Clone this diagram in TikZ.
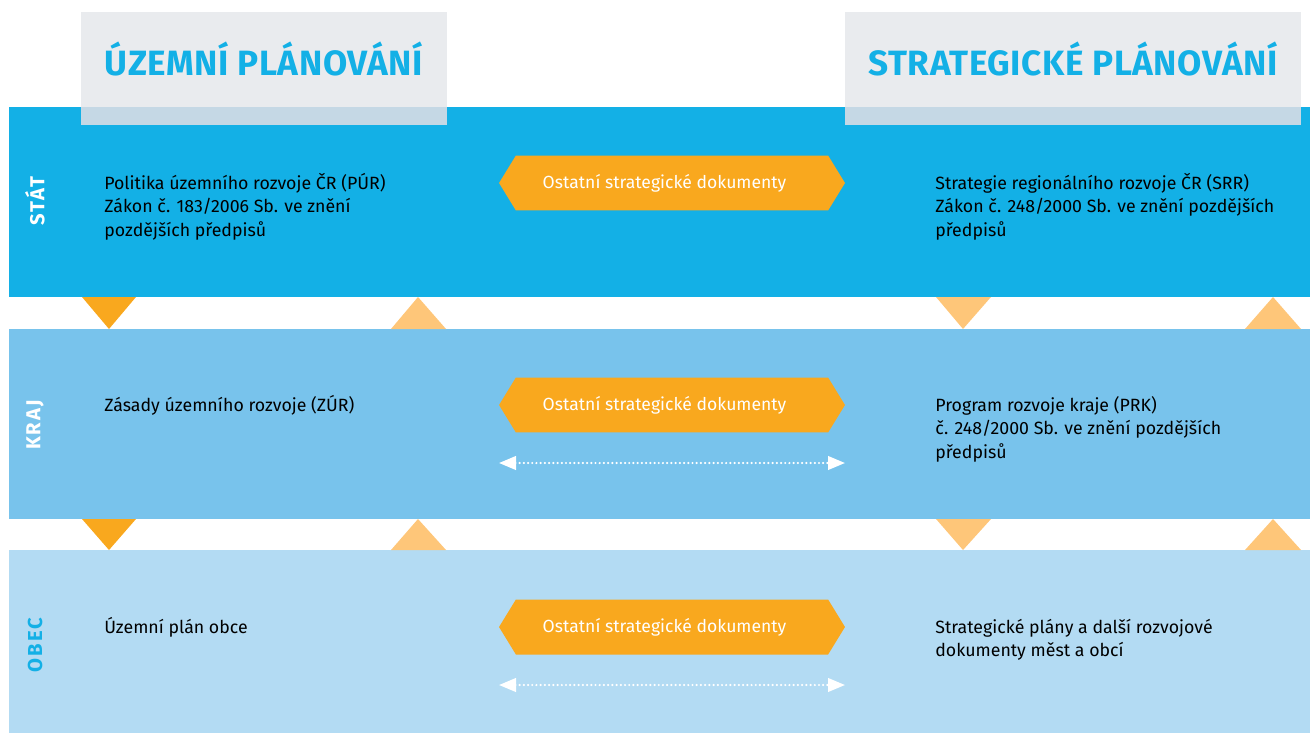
\documentclass[tikz,border=0pt]{standalone}
\usepackage{fontspec}
\setmainfont{Fira Sans}
\newfontfamily\headfont[LetterSpace=1.5]{Fira Sans}
\newfontfamily\sidefont[LetterSpace=10]{Fira Sans}
\usetikzlibrary{shapes.symbols,arrows.meta}
\definecolor{statblue}{HTML}{13B0E6}
\definecolor{krajblue}{HTML}{78C3EC}
\definecolor{obecblue}{HTML}{B3DBF3}
\definecolor{headgray}{HTML}{E9EBEE}
\definecolor{headshade}{HTML}{C5D8E5}
\definecolor{docorange}{HTML}{F9A81E}
\definecolor{lightorange}{HTML}{FEC679}
\begin{document}
\begin{tikzpicture}[x=0.02cm, y=-0.02cm,
  headtitle/.style={text=statblue, font=\headfont\bfseries\fontsize{20}{24}\selectfont},
  sidelabel/.style={rotate=90, font=\sidefont\bfseries\fontsize{11.5}{13}\selectfont},
  bodytext/.style={anchor=north west, align=left, inner sep=0pt, font=\fontsize{10.1}{13.6}\selectfont},
  docbox/.style={signal, signal to=west and east, fill=docorange, text=white, minimum width=6.92cm, minimum height=1.1cm, signal pointer angle=117, inner sep=0pt, font=\fontsize{10}{12}\selectfont, execute at end node={\hspace*{0.3cm}}},
  dotarrow/.style={white, line width=1.4pt, dash pattern=on 0pt off 2.4pt, line cap=round, {Triangle[length=0.34cm,width=0.27cm]}-{Triangle[length=0.34cm,width=0.27cm]}}]
\useasboundingbox (0,0) rectangle (1310,733);
% bands
\fill[statblue] (9,107) rectangle (1310,297);
\fill[krajblue] (9,329) rectangle (1310,519);
\fill[obecblue] (9,550) rectangle (1310,733);
% headers
\fill[headgray] (81,12) rectangle (447,107);
\fill[headshade] (81,107) rectangle (447,125);
\fill[headgray] (845,12) rectangle (1301,107);
\fill[headshade] (845,107) rectangle (1301,125);
\node[headtitle] (uzemni) at (264,59) {ÚZEMNÍ PLÁNOVÁNÍ};
\node[headtitle] (strateg) at (1073,59) {STRATEGICKÉ PLÁNOVÁNÍ};
% levels
\node[sidelabel, text=white] (stat) at (35,201) {STÁT};
\node[sidelabel, text=white] (kraj) at (35,425) {KRAJ};
\node[sidelabel, text=statblue] (obec) at (35,645) {OBEC};
% texts
\node[bodytext] (pur) at (104,172) {\strut Politika územního rozvoje ČR (PÚR)\\Zákon č. 183/2006 Sb. ve znění\\pozdějších předpisů};
\node[bodytext] (srr) at (935,172) {\strut Strategie regionálního rozvoje ČR (SRR)\\Zákon č. 248/2000 Sb. ve znění pozdějších\\předpisů};
\node[bodytext] (zur) at (104,394) {\strut Zásady územního rozvoje (ZÚR)};
\node[bodytext] (prk) at (935,394) {\strut Program rozvoje kraje (PRK)\\č. 248/2000 Sb. ve znění pozdějších\\předpisů};
\node[bodytext] (up) at (104,616) {\strut Územní plán obce};
\node[bodytext] (sp) at (935,616) {\strut Strategické plány a další rozvojové\\dokumenty měst a obcí};
% other documents
\node[docbox] (osd1) at (672,183) {Ostatní strategické dokumenty};
\node[docbox] (osd2) at (672,405) {Ostatní strategické dokumenty};
\node[docbox] (osd3) at (672,627) {Ostatní strategické dokumenty};
\coordinate (kl) at (499,463);
\coordinate (kr) at (845,463);
\coordinate (ol) at (499,685);
\coordinate (or) at (845,685);
\draw[dotarrow] (kl) -- (kr);
\draw[dotarrow] (ol) -- (or);
% triangles between bands
\foreach \t/\b in {297/329, 519/550} {
  \fill[docorange] (82,\t) -- (136,\t) -- (109,\b) -- cycle;
  \fill[lightorange] (391,\b) -- (446,\b) -- (418,\t) -- cycle;
  \fill[lightorange] (936,\t) -- (991,\t) -- (963,\b) -- cycle;
  \fill[lightorange] (1245,\b) -- (1301,\b) -- (1273,\t) -- cycle;
}
\end{tikzpicture}
\end{document}
